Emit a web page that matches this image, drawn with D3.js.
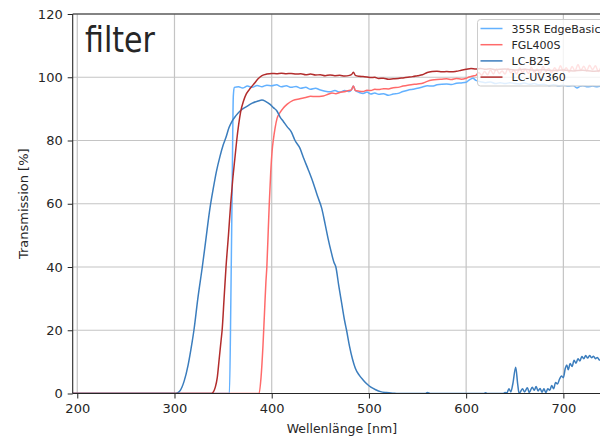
<!DOCTYPE html>
<html>
<head>
<meta charset="utf-8">
<script src="https://cdn.jsdelivr.net/npm/d3@7"></script>
<style>
  html, body { margin: 0; padding: 0; background: #fff; overflow: hidden; }
  svg { display: block; }
  text { font-family: "DejaVu Sans", sans-serif; fill: #262626; }
</style>
</head>
<body>
<svg id="chart" width="600" height="438"></svg>
<script>
// ---------- data ----------
const xTicks = [200, 300, 400, 500, 600, 700];
const yTicks = [0, 20, 40, 60, 80, 100, 120];
const seriesNames = ["355R EdgeBasic", "FGL400S", "LC-B25", "LC-UV360"];
const seriesColors = ["#63b1ff", "#ff6a6a", "#3b7dbd", "#b22c2c"];

const edge355R = [[195,0],[356.5,0],[358,30],[359.5,70],[360.5,94],[361.5,96.8],[366,97],[370,96.6],[375,97.2],[380,96.8],[385,97.4],[390,97],[395,97.5],[400,97.3],[405,97.6],[410,97],[415,97.3],[420,96.8],[425,97.1],[430,96.5],[435,96.8],[440,96.2],[445,96.5],[450,96],[455,95.6],[460,95.4],[465,95.8],[470,95.3],[475,95.8],[480,95.5],[482,96],[484,97.2],[486,95.8],[490,95.2],[494,94.9],[498,95.3],[502,94.7],[506,95],[510,94.6],[515,94.8],[520,94.3],[525,94.7],[530,94.9],[535,95.5],[540,95.9],[545,96.2],[550,96.5],[555,96.9],[560,97.3],[565,97.2],[570,97.6],[575,97.8],[580,97.9],[585,97.7],[590,98.1],[595,98.2],[600,98.4],[603,99.1],[607,99.7],[610,99],[615,98.6],[620,98.3],[625,98.5],[630,98],[635,98.3],[640,98],[645,98.3],[650,98],[655,97.9],[660,98.2],[665,97.8],[670,98],[675,97.6],[680,97.8],[685,97.4],[690,97.6],[695,97.3],[700,97.5],[705,97.2],[710,97.4],[714,96.6],[717,97.1],[720,97.3],[725,97],[730,97.2],[735,97],[740,97.3],[750,97.1]];

const fgl400S = [[195,0],[387,0],[389,5],[391,15],[392.5,25],[394,35],[395,40],[396.5,52],[397.5,60],[399,70],[400.5,77],[401.6,80],[403.5,84],[405.5,87],[408.5,88.8],[412,90.3],[416,91.5],[422,92.7],[429,93.2],[435,93.6],[440,94],[445,93.9],[453,94.1],[458,94.6],[462,95],[466,94.8],[470,95.2],[474,95.4],[478,95.7],[482,96],[484,97.2],[486,95.8],[490,95.6],[494,95.5],[498,95.9],[502,95.8],[506,96.2],[510,96.1],[515,96.4],[520,96.3],[525,96.7],[530,96.8],[535,97.2],[540,97.5],[545,97.7],[550,97.9],[556,98.2],[560,98.7],[565,99.1],[570,99.3],[575,99.4],[580,99.5],[585,99.3],[590,99.6],[595,99.4],[600,99.7],[603,100.1],[607,100.4],[610,100.6],[613,101.5],[616,100.6],[619,101.8],[622,100.8],[625,102.3],[628,101],[631,102.6],[634,101.2],[637,102],[640,101],[643,102.8],[646,101.4],[649,102.2],[652,101],[655,103],[658,101.5],[661,102.5],[664,101.2],[667,103.2],[670,101.6],[673,102.6],[676,101.2],[679,103.4],[682,101.8],[685,102.8],[688,101.4],[691,103],[694,101.8],[697,103.6],[700,102],[703,103],[706,101.6],[709,103.4],[712,102],[715,104],[718,102.2],[721,103.5],[724,102],[727,103.8],[730,102.4],[733,103.6],[736,101.8],[739,103.2],[742,102.2],[745,103.5],[750,102.5]];

const lcB25 = [[195,0],[300,0],[303,0.2],[306,1],[310,4],[314,9],[318,16],[320,20],[324,30],[328.6,40],[332,48],[336.5,58.6],[340,65],[343,70],[346.8,75],[350,78.5],[353,81],[356,84],[359,86],[363,87.8],[368,89.5],[374,90.7],[380,91.8],[386,92.5],[390,92.8],[394,92.3],[398,91.5],[402,90.3],[405,89.5],[408.5,87.5],[412,86],[416,84.3],[420,82.8],[424,80],[429,77.6],[433,74.3],[437.7,70.7],[442.8,66.5],[447,62.5],[451.4,58.6],[455,53.5],[458,49],[461,45],[464,41.5],[466,40],[469,34],[472,28.5],[475,23],[477,20],[480,15],[483,11],[486,8],[490,5.8],[494,4.3],[498,3],[502,2],[507,1.2],[512,0.6],[518,0.3],[525,0.1],[530,0],[558,0],[560,0.3],[563,0],[618,0],[620,0.2],[622,0],[638,0],[640,0.3],[642,0.2],[644,1.5],[646,0.5],[648,3],[651,8.3],[653,3],[654.5,0],[658,1.5],[660,0.5],[663,1.8],[665,0.3],[668,2],[670,1],[672,2.2],[674,0.8],[676,1.6],[678,0.4],[680,1.5],[682,0.3],[684,1.5],[686,1],[688,2.5],[690,1.5],[692,3.5],[694,3],[696,4.5],[698,5.5],[700,5],[702,8],[703.5,9],[705,7.5],[707,9.5],[709,8.5],[711,10.5],[713,9.6],[715,11],[717,10.3],[719,11.7],[721,11],[723,12],[725,11.2],[727,12],[729,11.3],[731,11.8],[733,11],[735,11.4],[737,10.6],[740,10.5],[745,10.8],[750,10.5]];

const lcUV360 = [[195,0],[338,0],[340,0.5],[342,2],[344,5],[346,11],[348,17],[349,20],[351,30],[353,40],[355.5,50],[357.8,60],[360,68],[362,74],[364,80],[366,85],[368,89],[371,92.5],[374,94.8],[378,96.5],[382,98],[386,99.5],[390,100.5],[395,101],[400,101.2],[405,101.1],[410,101.3],[415,101.1],[420,101.2],[425,101],[430,101.1],[435,100.8],[440,101],[445,100.7],[450,100.8],[455,100.5],[460,100.7],[465,100.5],[470,100.6],[475,100.4],[480,100.6],[482,100.8],[484,101.6],[486,100.6],[490,100.3],[494,100.2],[498,100.1],[502,99.9],[506,100],[510,99.6],[515,99.7],[520,99.4],[525,99.5],[530,99.6],[535,99.8],[540,100],[545,100.2],[550,100.5],[555,100.8],[560,101.5],[565,101.8],[570,101.9],[575,101.7],[580,101.8],[585,101.7],[590,101.9],[595,102.2],[600,102.5],[605,102.8],[610,102.6],[615,102.8],[620,102.5],[625,102.7],[630,102.4],[640,102.6],[650,102.3],[660,102.5],[670,102.2],[680,102.4],[690,102.1],[700,102.3],[710,102],[720,102.2],[730,101.9],[740,102.1],[750,102]];

const seriesData = [edge355R, fgl400S, lcB25, lcUV360];

// ---------- layout ----------
const svg = d3.select("#chart");
const L = 72.7, R = 611, T = 14, B = 393.5;
const x = d3.scaleLinear().domain([195.3, 749]).range([L, R]);
const y = d3.scaleLinear().domain([0, 120]).range([B, T]);

svg.append("defs").append("clipPath").attr("id", "plotclip")
  .append("rect").attr("x", L).attr("y", T).attr("width", R - L).attr("height", B - T);

// grid
const grid = svg.append("g");
grid.selectAll("line.vx").data(xTicks).join("line")
  .attr("x1", d => x(d)).attr("x2", d => x(d)).attr("y1", T).attr("y2", B)
  .attr("stroke", "#c4c4c4").attr("stroke-width", 1.2);
grid.selectAll("line.hy").data(yTicks).join("line")
  .attr("x1", L).attr("x2", R).attr("y1", d => y(d)).attr("y2", d => y(d))
  .attr("stroke", "#c4c4c4").attr("stroke-width", 1.2);

// curves
const line = d3.line().x(d => x(d[0])).y(d => y(d[1])).curve(d3.curveMonotoneX);
const curves = svg.append("g").attr("clip-path", "url(#plotclip)");
seriesData.forEach((s, i) => {
  curves.append("path").datum(s).attr("d", line)
    .attr("fill", "none").attr("stroke", seriesColors[i])
    .attr("stroke-width", 1.5).attr("stroke-linejoin", "round");
});

// axes
const xAxis = d3.axisBottom(x).tickValues(xTicks).tickSize(5).tickPadding(5);
const yAxis = d3.axisLeft(y).tickValues(yTicks).tickSize(5).tickPadding(5);
const gx = svg.append("g").attr("transform", `translate(0,${B})`).call(xAxis);
const gy = svg.append("g").attr("transform", `translate(${L},0)`).call(yAxis);
[gx, gy].forEach(g => {
  g.select(".domain").remove();
  g.selectAll(".tick line").attr("stroke", "#262626").attr("stroke-width", 1);
  g.selectAll(".tick text").attr("font-family", "DejaVu Sans").attr("font-size", 13).attr("fill", "#262626");
});

// spines
svg.append("line").attr("x1", L).attr("x2", L).attr("y1", T).attr("y2", B).attr("stroke", "#262626").attr("stroke-width", 1.1);
svg.append("line").attr("x1", L).attr("x2", R).attr("y1", B).attr("y2", B).attr("stroke", "#262626").attr("stroke-width", 1.1);
svg.append("line").attr("x1", L).attr("x2", R).attr("y1", T).attr("y2", T).attr("stroke", "#262626").attr("stroke-width", 1.1);
svg.append("line").attr("x1", R).attr("x2", R).attr("y1", T).attr("y2", B).attr("stroke", "#262626").attr("stroke-width", 1.1);

// axis labels
svg.append("text").attr("x", (L + R) / 2).attr("y", 433).attr("text-anchor", "middle")
  .attr("font-size", 12.5).text("Wellenlänge [nm]");
svg.append("text").attr("transform", `translate(28,${(T + B) / 2}) rotate(-90)`).attr("text-anchor", "middle")
  .attr("font-size", 13).text("Transmission [%]");

// legend
const lg = svg.append("g").attr("transform", "translate(477.5,19.5)");
lg.append("rect").attr("width", 140).attr("height", 66.5).attr("rx", 3)
  .attr("fill", "#ffffff").attr("fill-opacity", 0.8).attr("stroke", "#cccccc").attr("stroke-width", 1);
seriesNames.forEach((n, i) => {
  const cy = 9 + i * 16.2;
  lg.append("line").attr("x1", 3).attr("x2", 25).attr("y1", cy).attr("y2", cy)
    .attr("stroke", seriesColors[i]).attr("stroke-width", 1.5);
  lg.append("text").attr("x", 34).attr("y", cy + 4).attr("font-size", 11).text(n);
});

// annotation
svg.append("text").attr("x", 85).attr("y", 51.5).attr("font-family", "Lato, 'Noto Sans', sans-serif")
  .attr("font-size", 35).attr("fill", "#000")
  .attr("textLength", 70).attr("lengthAdjust", "spacingAndGlyphs").text("filter");
</script>
</body>
</html>
